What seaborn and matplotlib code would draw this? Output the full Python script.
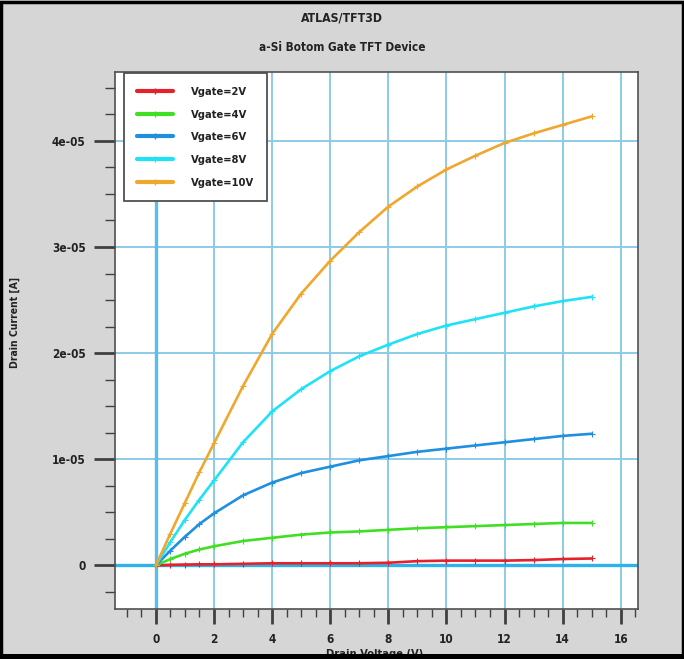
import numpy as np
import pandas as pd
import matplotlib
matplotlib.use("Agg")
import matplotlib.pyplot as plt
import seaborn as sns
from matplotlib.patches import Rectangle
from matplotlib.ticker import MultipleLocator, FixedLocator
from matplotlib import font_manager

# ---- data (drain current in units of 1e-5 A) ----
vd = [0, 0.5, 1, 1.5, 2, 3, 4, 5, 6, 7, 8, 9, 10, 11, 12, 13, 14, 15]
id_2v = [0, 0.005, 0.008, 0.01, 0.01, 0.015, 0.02, 0.02, 0.02, 0.02, 0.025, 0.04, 0.045, 0.045, 0.045, 0.05, 0.06, 0.065]
id_4v = [0, 0.06, 0.11, 0.15, 0.18, 0.23, 0.26, 0.29, 0.31, 0.32, 0.335, 0.35, 0.36, 0.37, 0.38, 0.39, 0.40, 0.40]
id_6v = [0, 0.14, 0.27, 0.39, 0.49, 0.66, 0.78, 0.87, 0.93, 0.99, 1.03, 1.07, 1.10, 1.13, 1.16, 1.19, 1.22, 1.24]
id_8v = [0, 0.22, 0.43, 0.62, 0.80, 1.16, 1.45, 1.66, 1.83, 1.97, 2.08, 2.18, 2.26, 2.32, 2.38, 2.44, 2.49, 2.53]
id_10v = [0, 0.30, 0.59, 0.88, 1.15, 1.69, 2.18, 2.56, 2.87, 3.14, 3.38, 3.57, 3.73, 3.86, 3.98, 4.07, 4.15, 4.23]
labels = ["Vgate=2V", "Vgate=4V", "Vgate=6V", "Vgate=8V", "Vgate=10V"]
colors = ["#e3222c", "#3fe024", "#1f8fe0", "#1fe2f7", "#f0a72e"]
yticks = [0, 1e-5, 2e-5, 3e-5, 4e-5]
ytick_labels = ["0", "1e-05", "2e-05", "3e-05", "4e-05"]
xticks = [0, 2, 4, 6, 8, 10, 12, 14, 16]

series = [id_2v, id_4v, id_6v, id_8v, id_10v]
df = pd.concat([
    pd.DataFrame({"Vd": vd, "Id": np.array(s) * 1e-5, "curve": lab})
    for s, lab in zip(series, labels)
], ignore_index=True)

sns.set_style("white")
names = {f.name for f in font_manager.fontManager.ttflist}
if "Liberation Sans Narrow" in names:
    plt.rcParams["font.family"] = ["Liberation Sans Narrow", "DejaVu Sans"]
else:
    plt.rcParams["font.family"] = ["DejaVu Sans"]
    plt.rcParams["font.stretch"] = "condensed"
plt.rcParams["font.weight"] = "bold"

bg = "#d6d6d6"
fig = plt.figure(figsize=(6.84, 6.59), dpi=100, facecolor=bg)
ax = fig.add_axes([0.168, 0.076, 0.765, 0.815])
ax.set_facecolor("white")

grid_c = "#8ccbe7"
for x in xticks:
    ax.axvline(x, color=grid_c, lw=1.4, zorder=0)
for y in yticks:
    ax.axhline(y, color=grid_c, lw=1.4, zorder=0)
ax.axvline(0, color="#5bbde9", lw=2.4, zorder=0.5)
ax.axhline(0, color="#2fb2ea", lw=2.4, zorder=0.5)

sns.lineplot(data=df, x="Vd", y="Id", hue="curve", palette=colors,
             hue_order=labels, ax=ax, lw=1.9, marker="+", markersize=4,
             markeredgewidth=0.8, legend=False, zorder=3)
for line in ax.get_lines():
    if line.get_marker() == "+":
        line.set_markeredgecolor(line.get_color())

ax.set_xlim(-1.41, 16.6)
ax.set_ylim(-0.41e-5, 4.65e-5)
ax.xaxis.set_major_locator(FixedLocator(xticks))
ax.xaxis.set_minor_locator(MultipleLocator(0.5))
ax.yaxis.set_major_locator(FixedLocator(yticks))
ax.yaxis.set_minor_locator(MultipleLocator(0.25e-5))
ax.set_yticklabels(ytick_labels)
ax.tick_params(axis="y", which="major", direction="out", length=15, width=2,
               color="#404040", labelsize=8.5, pad=6, left=True)
ax.tick_params(axis="y", which="minor", direction="out", length=7, width=1,
               color="#404040", left=True)
ax.tick_params(axis="x", which="major", direction="out", length=11, width=2,
               color="#404040", labelsize=8.5, pad=6, bottom=True)
ax.tick_params(axis="x", which="minor", direction="out", length=6, width=1,
               color="#404040", bottom=True)
for lab in ax.get_xticklabels() + ax.get_yticklabels():
    lab.set_fontweight("bold")
    lab.set_color("#222222")
for sp in ax.spines.values():
    sp.set_color("#505050")
    sp.set_linewidth(1.2)
ax.set_xlabel("")
ax.set_ylabel("")

handles = [plt.Line2D([], [], color=c, lw=3, marker="+", markersize=5,
                      markevery=[0, -1]) for c in colors]
leg = ax.legend(handles, labels, loc="upper left", bbox_to_anchor=(0.017, 0.997),
                frameon=True, fancybox=False, edgecolor="#505050",
                facecolor="white", framealpha=1, fontsize=8,
                handlelength=3.2, handletextpad=1.6, labelspacing=1.15,
                borderpad=1.2, borderaxespad=0)
leg.get_frame().set_linewidth(1.3)
for t in leg.get_texts():
    t.set_fontweight("bold")
    t.set_color("#222222")

fig.text(0.5, 0.972, "ATLAS/TFT3D", ha="center", va="center", fontsize=8.8,
         fontweight="bold", color="#222222")
fig.text(0.5, 0.928, "a-Si Botom Gate TFT Device", ha="center", va="center",
         fontsize=8.5, fontweight="bold", color="#222222")
fig.text(0.022, 0.51, "Drain Current [A]", rotation=90, ha="center",
         va="center", fontsize=7.5, fontweight="bold", color="#222222")
fig.text(0.548, 0.008, "Drain Voltage (V)", ha="center", va="center",
         fontsize=8, fontweight="bold", color="#222222", zorder=1)

fig.add_artist(Rectangle((0.002, 0.003), 0.996, 0.994, transform=fig.transFigure,
                         fill=False, edgecolor="black", lw=2.5, zorder=10))
fig.add_artist(Rectangle((0, 0), 1, 0.007, transform=fig.transFigure,
                         facecolor="black", edgecolor="none", zorder=10))

fig.savefig("out.png", dpi=100, facecolor=bg)
